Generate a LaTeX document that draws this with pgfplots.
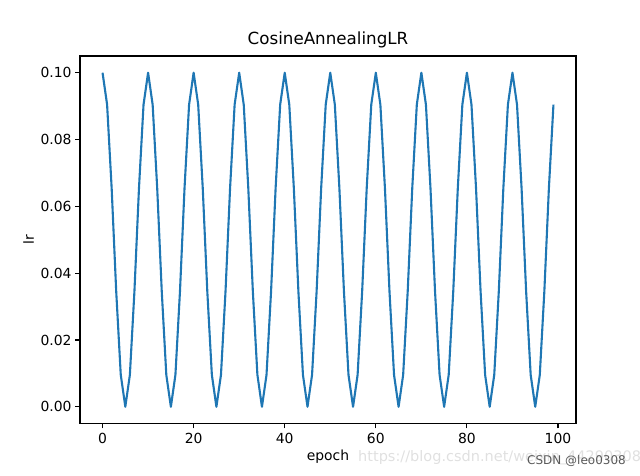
\documentclass[border=0pt]{standalone}
\usepackage{fontspec}
\setmainfont{DejaVu Sans}
\usepackage{pgfplots}
\pgfplotsset{compat=1.18}
\definecolor{mplblue}{HTML}{1F77B4}
\begin{document}
\begin{tikzpicture}[x=1pt,y=1pt]
\useasboundingbox (-80,-52.5) rectangle (560,423.5);
\begin{axis}[at={(0,0)}, anchor=south west, scale only axis,
  width=496pt, height=367.5pt,
  xmin=-4.95, xmax=103.95, ymin=-0.005, ymax=0.105,
  xtick={0,20,40,60,80,100}, ytick={0,0.02,0.04,0.06,0.08,0.1},
  xtick pos=bottom, ytick pos=left, tick align=outside,
  major tick length=4.9pt,
  every tick/.style={line width=1.1pt, black},
  axis line style={line width=1.1pt},
  /pgf/number format/assume math mode=true,
  yticklabel style={/pgf/number format/.cd, fixed, fixed zerofill, precision=2},
  scaled y ticks=false,
  ticklabel style={font=\fontsize{13.9}{16}\selectfont},
  xticklabel style={yshift=-1pt},
  title={CosineAnnealingLR}, title style={font=\fontsize{16.7}{20}\selectfont, yshift=-2pt},
  xlabel={epoch}, ylabel={lr},
  label style={font=\fontsize{13.9}{16}\selectfont},
  ]
\addplot[mplblue, line width=2.1pt, line join=round] coordinates {
(0,0.1)(1,0.09045)(2,0.06545)(3,0.03455)(4,0.00955)(5,0)(6,0.00955)(7,0.03455)(8,0.06545)(9,0.09045)
(10,0.1)(11,0.09045)(12,0.06545)(13,0.03455)(14,0.00955)(15,0)(16,0.00955)(17,0.03455)(18,0.06545)(19,0.09045)
(20,0.1)(21,0.09045)(22,0.06545)(23,0.03455)(24,0.00955)(25,0)(26,0.00955)(27,0.03455)(28,0.06545)(29,0.09045)
(30,0.1)(31,0.09045)(32,0.06545)(33,0.03455)(34,0.00955)(35,0)(36,0.00955)(37,0.03455)(38,0.06545)(39,0.09045)
(40,0.1)(41,0.09045)(42,0.06545)(43,0.03455)(44,0.00955)(45,0)(46,0.00955)(47,0.03455)(48,0.06545)(49,0.09045)
(50,0.1)(51,0.09045)(52,0.06545)(53,0.03455)(54,0.00955)(55,0)(56,0.00955)(57,0.03455)(58,0.06545)(59,0.09045)
(60,0.1)(61,0.09045)(62,0.06545)(63,0.03455)(64,0.00955)(65,0)(66,0.00955)(67,0.03455)(68,0.06545)(69,0.09045)
(70,0.1)(71,0.09045)(72,0.06545)(73,0.03455)(74,0.00955)(75,0)(76,0.00955)(77,0.03455)(78,0.06545)(79,0.09045)
(80,0.1)(81,0.09045)(82,0.06545)(83,0.03455)(84,0.00955)(85,0)(86,0.00955)(87,0.03455)(88,0.06545)(89,0.09045)
(90,0.1)(91,0.09045)(92,0.06545)(93,0.03455)(94,0.00955)(95,0)(96,0.00955)(97,0.03455)(98,0.06545)(99,0.09045)
};
\end{axis}
\begin{scope}
\clip (-80,-52.5) rectangle (560,423.5);
\node[anchor=west, inner sep=0pt, text=black!12, font=\fontsize{14.5}{17}\selectfont] at (278,-34.5) {https://blog.csdn.net/weixin\_44290308};
\end{scope}
\node[anchor=east, inner sep=0pt, text=black!65, font=\fontsize{12}{14}\selectfont] at (546,-37.5) {CSDN @leo0308};
\end{tikzpicture}
\end{document}
